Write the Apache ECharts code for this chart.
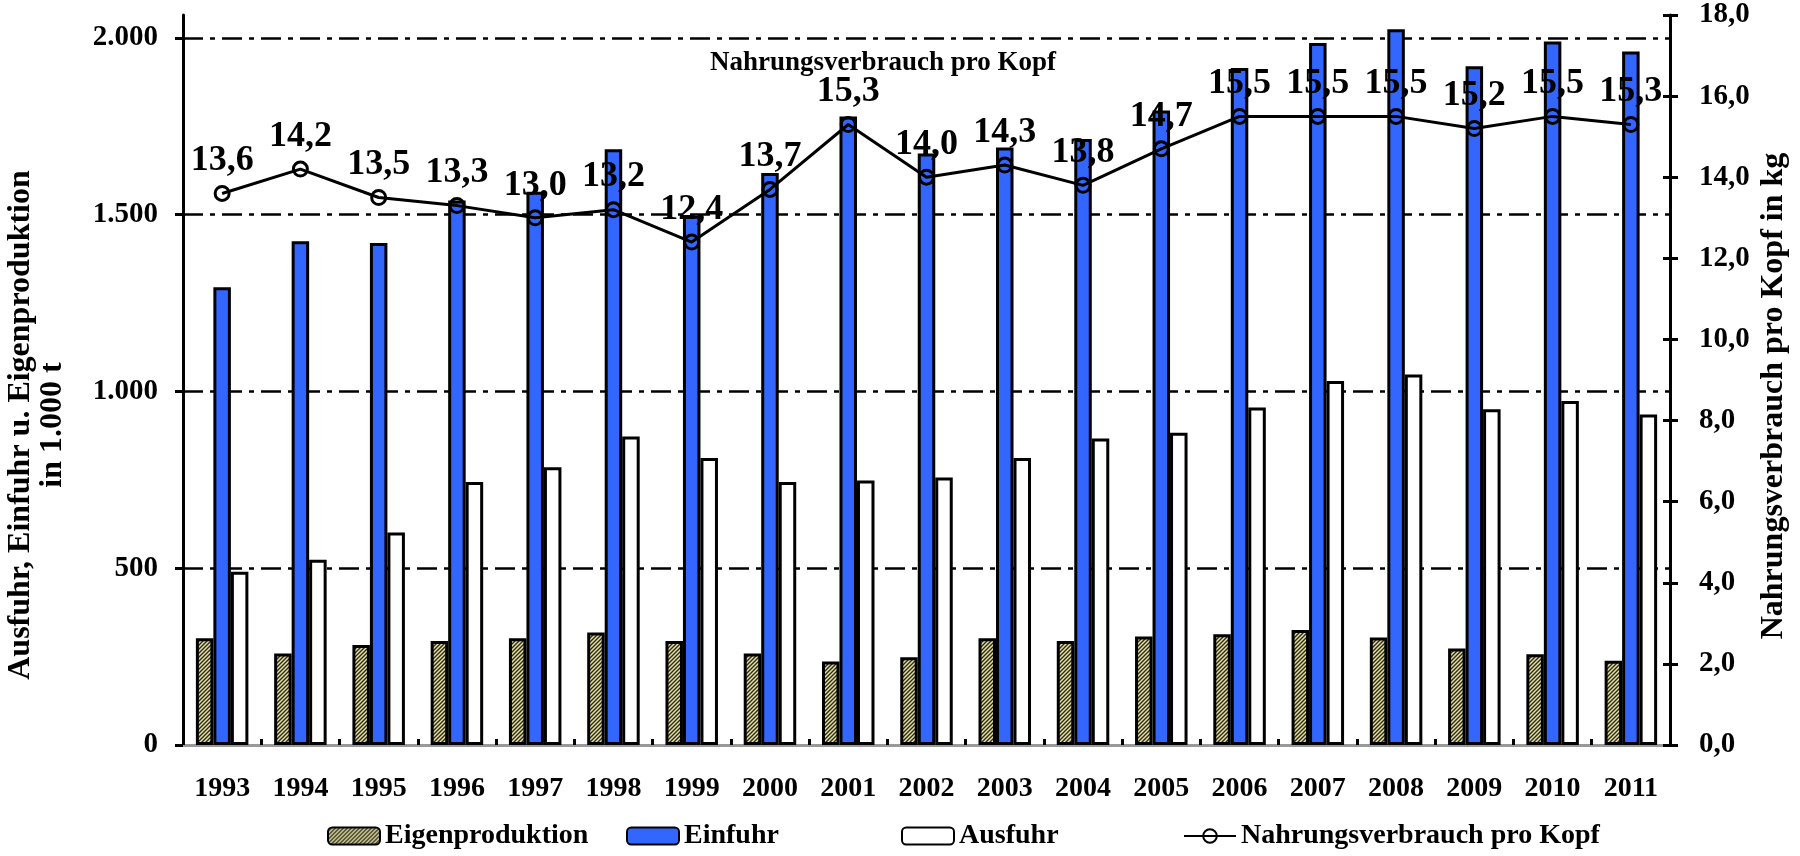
<!DOCTYPE html>
<html>
<head>
<meta charset="utf-8">
<title>Nahrungsverbrauch pro Kopf</title>
<script src="https://cdn.jsdelivr.net/npm/echarts@6.0.0/dist/echarts.min.js"></script>
<style>
  html, body { margin: 0; padding: 0; background: #fff; }
  #chart { width: 1800px; height: 856px; }
</style>
</head>
<body>
<div id="chart"></div>
<script>
// Werte
var years = ['1993','1994','1995','1996','1997','1998','1999','2000','2001','2002',
             '2003','2004','2005','2006','2007','2008','2009','2010','2011'];
var eigenproduktion = [302,259,283,294,302,318,294,259,236,248,302,294,307,313,325,304,273,257,238];
var einfuhr = [1295,1425,1420,1540,1565,1685,1497,1618,1778,1673,1690,1714,1795,1915,1986,2025,1920,1990,1962];
var ausfuhr = [490,524,601,744,786,873,812,744,748,757,812,867,883,955,1030,1048,950,973,935];
var verbrauch = [13.6,14.2,13.5,13.3,13.0,13.2,12.4,13.7,15.3,14.0,14.3,13.8,14.7,15.5,15.5,15.5,15.2,15.5,15.3];
var leftTicks = [0,500,1000,1500,2000];

var serif = '"Liberation Serif", "Times New Roman", serif';

function fmtThousand(v) {
  return String(v).replace(/\B(?=(\d{3})+(?!\d))/g, '.');
}
function fmtComma(v) {
  return Number(v).toFixed(1).replace('.', ',');
}

// Schraffur fuer Eigenproduktion
function hatch() {
  var c = document.createElement('canvas');
  c.width = 4; c.height = 4;
  var ctx = c.getContext('2d');
  ctx.fillStyle = '#e8e2a0';
  ctx.fillRect(0, 0, 4, 4);
  ctx.strokeStyle = '#2a2a20';
  ctx.lineWidth = 1.4;
  ctx.beginPath();
  ctx.moveTo(-1, 5); ctx.lineTo(5, -1);
  ctx.moveTo(-1, 1); ctx.lineTo(1, -1);
  ctx.moveTo(3, 5); ctx.lineTo(5, 3);
  ctx.stroke();
  return c;
}
var hatchFill = { image: hatch(), repeat: 'repeat' };

var chart = echarts.init(document.getElementById('chart'));

var legendText = { fontFamily: serif, fontWeight: 'bold', fontSize: 28, color: '#000' };
function legendAt(name, left) {
  return {
    data: [name], left: left, top: 822, padding: 0,
    itemWidth: 52, itemHeight: 17,
    textStyle: legendText,
    selectedMode: false
  };
}

var option = {
  backgroundColor: '#fff',
  animation: false,
  title: {
    text: 'Nahrungsverbrauch pro Kopf',
    left: 878, top: 45, textAlign: 'center',
    textStyle: { fontFamily: serif, fontWeight: 'bold', fontSize: 27, color: '#000' }
  },
  legend: [
    legendAt('Eigenproduktion', 327),
    legendAt('Einfuhr', 626),
    legendAt('Ausfuhr', 901),
    legendAt('Nahrungsverbrauch pro Kopf', 1183)
  ],
  grid: { left: 183, right: 130, top: 15, bottom: 111 },
  xAxis: [{
    type: 'category',
    data: years,
    axisLine: { lineStyle: { color: '#000', width: 3 } },
    axisTick: { show: true, inside: true, length: 6, lineStyle: { color: '#000', width: 3 } },
    axisLabel: { margin: 30, fontFamily: serif, fontWeight: 'bold', fontSize: 28, color: '#000' },
    splitLine: { show: false }
  }, {
    type: 'category',
    position: 'top',
    data: years,
    axisLine: { lineStyle: { color: '#999', width: 3 } },
    axisTick: { show: false },
    axisLabel: { show: false },
    splitLine: { show: false }
  }],
  yAxis: [{
    type: 'value',
    min: 0, max: 2065, interval: 500,
    axisLine: { show: true, lineStyle: { color: '#000', width: 3 } },
    axisTick: { show: true, length: 8, lineStyle: { color: '#000', width: 3 }, customValues: leftTicks },
    axisLabel: {
      margin: 25, fontFamily: serif, fontWeight: 'bold', fontSize: 29, color: '#000',
      customValues: leftTicks,
      formatter: function (v) { return fmtThousand(v); }
    },
    splitLine: { show: true, lineStyle: { color: '#000', width: 2.5, type: [20, 7, 5, 7] } }
  }, {
    type: 'value',
    position: 'right',
    min: 0, max: 18, interval: 2,
    axisLine: { show: true, lineStyle: { color: '#000', width: 3 } },
    axisTick: { show: true, length: 8, lineStyle: { color: '#000', width: 3 } },
    axisLabel: {
      margin: 29, fontFamily: serif, fontWeight: 'bold', fontSize: 29, color: '#000',
      formatter: function (v) { return fmtComma(v); }
    },
    splitLine: { show: false }
  }, {
    // nur fuer die nach innen zeigenden Teilstriche der rechten Achse
    type: 'value',
    position: 'right',
    min: 0, max: 18, interval: 2,
    axisLine: { show: false },
    axisTick: { show: true, inside: true, length: 7, lineStyle: { color: '#000', width: 3 } },
    axisLabel: { show: false },
    splitLine: { show: false }
  }],
  graphic: [{
    type: 'text',
    x: 37, y: 425, rotation: Math.PI / 2,
    style: {
      text: 'Ausfuhr, Einfuhr u. Eigenproduktion\nin 1.000 t',
      align: 'center', verticalAlign: 'middle', lineHeight: 32,
      font: 'bold 32px ' + serif, fill: '#000'
    }
  }, {
    type: 'text',
    x: 1774, y: 396, rotation: Math.PI / 2,
    style: {
      text: 'Nahrungsverbrauch pro Kopf in kg',
      align: 'center', verticalAlign: 'middle',
      font: 'bold 32px ' + serif, fill: '#000'
    }
  }],
  series: [{
    name: 'Eigenproduktion',
    type: 'bar',
    data: eigenproduktion,
    barWidth: 17.5,
    barGap: '0%',
    itemStyle: { color: hatchFill, borderColor: '#000', borderWidth: 3 }
  }, {
    name: 'Einfuhr',
    type: 'bar',
    data: einfuhr,
    barWidth: 17.5,
    barGap: '0%',
    itemStyle: { color: '#3366ff', borderColor: '#000', borderWidth: 3 }
  }, {
    name: 'Ausfuhr',
    type: 'bar',
    data: ausfuhr,
    barWidth: 17.5,
    barGap: '0%',
    itemStyle: { color: '#fff', borderColor: '#000', borderWidth: 3 }
  }, {
    name: 'Nahrungsverbrauch pro Kopf',
    type: 'line',
    yAxisIndex: 1,
    data: verbrauch,
    symbol: 'circle',
    symbolSize: 14,
    lineStyle: { color: '#000', width: 3 },
    itemStyle: { color: 'rgba(0,0,0,0)', borderColor: '#000', borderWidth: 3 },
    label: {
      show: true, position: 'top', distance: 6,
      fontFamily: serif, fontWeight: 'bold', fontSize: 36, color: '#000',
      formatter: function (p) { return fmtComma(p.value); }
    },
    z: 5
  }]
};

chart.setOption(option);
</script>
</body>
</html>
